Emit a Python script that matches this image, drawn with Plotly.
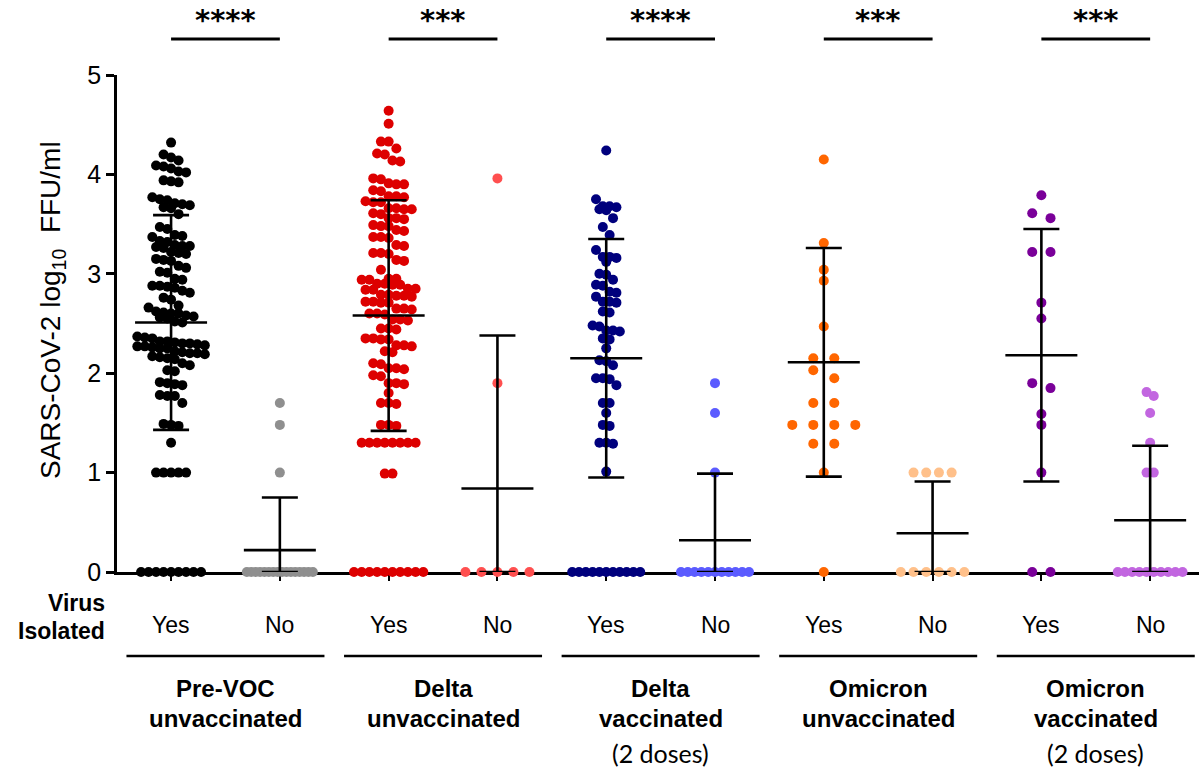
import plotly.graph_objects as go

# ---------------- data ----------------
group_names = ["Pre-VOC<br>unvaccinated", "Delta<br>unvaccinated", "Delta<br>vaccinated",
               "Omicron<br>unvaccinated", "Omicron<br>vaccinated"]
group_notes = ["", "", "(2 doses)", "", "(2 doses)"]
isolated_labels = ["Yes", "No"]
significance = ["****", "***", "****", "***", "***"]

prevoc_yes = [4.32, 4.20, 4.17, 4.14, 4.09, 4.08, 4.06, 4.03, 4.02, 3.94, 3.93, 3.92, 3.77, 3.75,
              3.74, 3.71, 3.70, 3.69, 3.67, 3.66, 3.60, 3.47, 3.45, 3.39, 3.38, 3.37, 3.33, 3.32,
              3.29, 3.28, 3.28, 3.27, 3.26, 3.22, 3.21, 3.20, 3.15, 3.14, 3.13, 3.08, 3.06, 3.02,
              3.01, 2.95, 2.94, 2.88, 2.88, 2.87, 2.86, 2.83, 2.81, 2.76, 2.74, 2.68, 2.66, 2.62,
              2.61, 2.60, 2.60, 2.58, 2.57, 2.56, 2.55, 2.52, 2.51, 2.37, 2.36, 2.35, 2.32, 2.32,
              2.31, 2.30, 2.30, 2.29, 2.28, 2.27, 2.27, 2.26, 2.25, 2.25, 2.22, 2.21, 2.20, 2.20,
              2.19, 2.17, 2.16, 2.15, 2.14, 2.10, 2.08, 2.03, 2.02, 1.91, 1.90, 1.89, 1.88, 1.78,
              1.77, 1.77, 1.70, 1.49, 1.48, 1.47, 1.30, 1.00, 1.00, 1.00, 1.00, 1.00,
              0, 0, 0, 0, 0, 0, 0, 0, 0]
prevoc_no = [1.70, 1.48, 1.00] + [0] * 16

delta_unvac_yes = [4.64, 4.51, 4.33, 4.33, 4.26, 4.21, 4.20, 4.14, 4.13, 3.96, 3.95, 3.91, 3.90,
                   3.90, 3.84, 3.83, 3.78, 3.78, 3.77, 3.73, 3.72, 3.72, 3.66, 3.66, 3.65, 3.65,
                   3.61, 3.60, 3.56, 3.56, 3.55, 3.49, 3.48, 3.48, 3.44, 3.43, 3.37, 3.37, 3.36,
                   3.29, 3.28, 3.21, 3.21, 3.20, 3.14, 3.13, 3.04, 2.95, 2.95, 2.94, 2.94, 2.90,
                   2.90, 2.89, 2.89, 2.85, 2.85, 2.84, 2.84, 2.79, 2.79, 2.78, 2.78, 2.77, 2.72,
                   2.72, 2.71, 2.71, 2.65, 2.65, 2.64, 2.60, 2.60, 2.59, 2.54, 2.54, 2.53, 2.45,
                   2.45, 2.44, 2.35, 2.35, 2.34, 2.34, 2.28, 2.28, 2.27, 2.22, 2.21, 2.10, 2.09,
                   2.05, 2.05, 2.04, 1.98, 1.97, 1.90, 1.90, 1.89, 1.80, 1.70, 1.70, 1.69, 1.48,
                   1.48, 1.47, 1.30, 1.30, 1.30, 1.30, 1.30, 1.30, 1.30, 1.30, 0.99, 0.99,
                   0, 0, 0, 0, 0, 0, 0, 0, 0, 0]
delta_unvac_no = [3.96, 1.90, 0, 0, 0, 0, 0]

delta_vac_yes = [4.24, 3.75, 3.68, 3.68, 3.67, 3.65, 3.64, 3.56, 3.47, 3.39, 3.24, 3.17, 3.17,
                 3.16, 3.12, 3.00, 2.99, 2.94, 2.89, 2.88, 2.82, 2.81, 2.77, 2.72, 2.72, 2.71,
                 2.62, 2.61, 2.48, 2.47, 2.43, 2.43, 2.42, 2.35, 2.34, 2.25, 2.13, 2.12, 2.08,
                 1.95, 1.95, 1.94, 1.88, 1.70, 1.70, 1.60, 1.48, 1.47, 1.30, 1.30, 1.29, 1.01,
                 0, 0, 0, 0, 0, 0, 0, 0, 0, 0, 0]
delta_vac_no = [1.90, 1.60, 1.00] + [0] * 11

omicron_unvac_yes = [4.15, 3.31, 3.04, 2.93, 2.47, 2.15, 2.15, 2.03, 1.95, 1.70, 1.70,
                     1.48, 1.48, 1.48, 1.48, 1.29, 1.29, 1.00, 0]
omicron_unvac_no = [1.00, 1.00, 1.00, 1.00, 0, 0, 0, 0, 0, 0]

omicron_vac_yes = [3.79, 3.61, 3.56, 3.22, 3.22, 2.71, 2.55, 1.90, 1.85, 1.59, 1.48, 1.00, 0, 0]
omicron_vac_no = [1.81, 1.77, 1.60, 1.30, 1.00, 1.00] + [0] * 10

# mean and SD bars as drawn in the reference
means = [2.51, 0.22, 2.58, 0.84, 2.15, 0.32, 2.11, 0.39, 2.18, 0.52]
sds = [1.08, 0.53, 1.16, 1.54, 1.20, 0.67, 1.15, 0.52, 1.27, 0.75]

series = [prevoc_yes, prevoc_no, delta_unvac_yes, delta_unvac_no, delta_vac_yes, delta_vac_no,
          omicron_unvac_yes, omicron_unvac_no, omicron_vac_yes, omicron_vac_no]

# ---------------- style ----------------
colors = ["#000000", "#8f8f8f", "#dd0000", "#ff4f4f", "#00007d", "#5b5bff",
          "#ff6600", "#ffc08a", "#7a0099", "#c266e0"]
spacing_px = [7.5, 4.4, 7.7, 16, 6.8, 6.8, 21, 12.7, 18.3, 7.2]

W, H = 1199, 770
ML, MR, MT, MB = 117, 0, 75, 198
X0, X1 = -0.497, 9.449
PX_PER_UNIT = (W - ML - MR) / (X1 - X0)
PLOT_H = H - MT - MB
FONT = "Liberation Sans, Arial, sans-serif"


def swarm(values, dx_px, bin_h=0.095):
    order = sorted(range(len(values)), key=lambda k: -values[k])
    bins, cur, start = [], [], None
    for k in order:
        if start is None or start - values[k] > bin_h:
            if cur:
                bins.append(cur)
            cur, start = [k], values[k]
        else:
            cur.append(k)
    if cur:
        bins.append(cur)
    offs = [0.0] * len(values)
    for b in bins:
        m = len(b)
        for j, k in enumerate(b):
            offs[k] = (j - (m - 1) / 2) * dx_px / PX_PER_UNIT
    return offs


def py(pix):  # pixel y -> paper y
    return (H - MB - pix) / PLOT_H


def px(pix):  # pixel x -> paper x
    return (pix - ML) / (W - ML - MR)


fig = go.Figure()

for i, vals in enumerate(series):
    offs = swarm(vals, spacing_px[i])
    fig.add_trace(go.Scatter(
        x=[i + o for o in offs], y=vals, mode="markers",
        marker=dict(size=10, color=colors[i], line=dict(width=0)),
        cliponaxis=False, showlegend=False, hoverinfo="y"))

# mean +/- SD bars
mean_hw, cap_hw = 36 / PX_PER_UNIT, 18 / PX_PER_UNIT
ex, ey = [], []
for i, (m, s) in enumerate(zip(means, sds)):
    lo, hi = max(0, m - s), m + s
    ex += [i - mean_hw, i + mean_hw, None, i, i, None,
           i - cap_hw, i + cap_hw, None, i - cap_hw, i + cap_hw, None]
    ey += [m, m, None, lo, hi, None, hi, hi, None, lo, lo, None]
fig.add_trace(go.Scatter(x=ex, y=ey, mode="lines", line=dict(color="black", width=2.6),
                         cliponaxis=False, showlegend=False, hoverinfo="skip"))

shapes, annotations = [], []
for g in range(5):
    a, b = 2 * g, 2 * g + 1
    mid = (a + b) / 2
    # significance bracket
    shapes.append(dict(type="line", xref="x", yref="paper", x0=a, x1=b,
                       y0=py(39), y1=py(39), line=dict(color="black", width=3)))
    annotations.append(dict(x=mid, y=py(20), xref="x", yref="paper",
                            text="<b>%s</b>" % significance[g],
                            showarrow=False, font=dict(family="DejaVu Sans", size=29, color="black"),
                            xanchor="center", yanchor="middle"))
    # underline for group
    shapes.append(dict(type="line", xref="x", yref="paper", x0=mid - 99 / PX_PER_UNIT,
                       x1=mid + 99 / PX_PER_UNIT, y0=py(656), y1=py(656),
                       line=dict(color="black", width=2.6)))
    # Yes / No
    for k, idx in enumerate((a, b)):
        annotations.append(dict(x=idx, y=py(625), xref="x", yref="paper", text=isolated_labels[k],
                                showarrow=False, font=dict(family=FONT, size=23, color="black"),
                                xanchor="center", yanchor="middle"))
    # group name
    l1, l2 = group_names[g].split("<br>")
    annotations.append(dict(x=mid, y=py(689), xref="x", yref="paper", text="<b>%s</b>" % l1,
                            showarrow=False, font=dict(family=FONT, size=24, color="black"),
                            xanchor="center", yanchor="middle"))
    annotations.append(dict(x=mid, y=py(718), xref="x", yref="paper", text="<b>%s</b>" % l2,
                            showarrow=False, font=dict(family=FONT, size=24, color="black"),
                            xanchor="center", yanchor="middle"))
    if group_notes[g]:
        annotations.append(dict(x=mid, y=py(753), xref="x", yref="paper", text=group_notes[g],
                                showarrow=False, font=dict(family="Lato", size=25, color="black"),
                                xanchor="center", yanchor="middle"))

annotations.append(dict(x=px(107), y=py(603), xref="paper", yref="paper", text="<b>Virus</b>",
                        showarrow=False, font=dict(family=FONT, size=23, color="black"),
                        xanchor="right", yanchor="middle"))
annotations.append(dict(x=px(107), y=py(631), xref="paper", yref="paper", text="<b>Isolated</b>",
                        showarrow=False, font=dict(family=FONT, size=23, color="black"),
                        xanchor="right", yanchor="middle"))
annotations.append(dict(x=px(52), y=py(310), xref="paper", yref="paper",
                        text="SARS-CoV-2 log<sub>10</sub>  FFU/ml", textangle=-90,
                        showarrow=False, font=dict(family=FONT, size=28, color="black"),
                        xanchor="center", yanchor="middle"))

fig.update_layout(
    width=W, height=H, margin=dict(l=ML, r=MR, t=MT, b=MB, pad=0),
    paper_bgcolor="white", plot_bgcolor="white",
    shapes=shapes, annotations=annotations, showlegend=False,
    xaxis=dict(range=[X0, X1], tickvals=list(range(10)), showticklabels=False,
               showline=True, linecolor="black", linewidth=2.6, ticks="outside",
               ticklen=6, tickwidth=2, tickcolor="black", showgrid=False, zeroline=False,
               layer="below traces", fixedrange=True),
    yaxis=dict(range=[0, 5], tickvals=[0, 1, 2, 3, 4, 5], showline=True, linecolor="black",
               linewidth=2.6, ticks="outside", ticklen=8, tickwidth=2.6, tickcolor="black",
               tickfont=dict(family=FONT, size=25, color="black"), showgrid=False,
               zeroline=False, layer="below traces", fixedrange=True),
)

fig.write_html("out.html", config={"displayModeBar": False},
               post_script="document.body.style.margin='0';document.body.style.overflow='hidden';")
